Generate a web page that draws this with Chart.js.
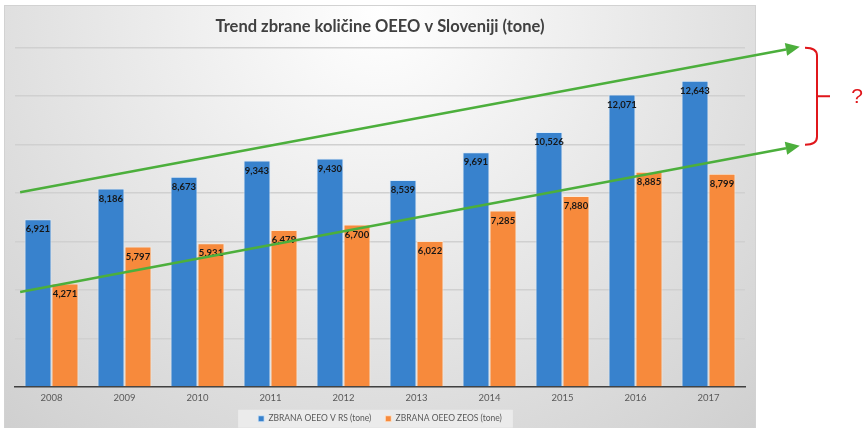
<!DOCTYPE html>
<html>
<head>
<meta charset="utf-8">
<script src="https://cdn.jsdelivr.net/npm/chart.js@4/dist/chart.umd.min.js"></script>
<style>
  html, body { margin: 0; padding: 0; background: #ffffff; }
  #wrap { width: 865px; height: 428px; position: relative; }
</style>
</head>
<body>
<div id="wrap"><canvas id="c" width="865" height="428"></canvas></div>
<script>
// ---- data ----
const years = ['2008', '2009', '2010', '2011', '2012', '2013', '2014', '2015', '2016', '2017'];
const rsValues = [6921, 8186, 8673, 9343, 9430, 8539, 9691, 10526, 12071, 12643];
const zeosValues = [4271, 5797, 5931, 6479, 6700, 6022, 7285, 7880, 8885, 8799];
const seriesNames = ['ZBRANA OEEO V RS (tone)', 'ZBRANA OEEO ZEOS (tone)'];
const titleText = 'Trend zbrane količine OEEO v Sloveniji (tone)';
// trend arrows (category index, value)
const upperArrow = [[-0.43, 8040], [10.25, 14040]];
const lowerArrow = [[-0.43, 3920], [10.25, 9960]];
// brace range (values)
const braceRange = [14000, 10000];

const FONT = 'Lato, "Liberation Sans", sans-serif';

const legendShiftPlugin = {
  id: 'legendShift',
  afterLayout(chart) {
    const lg = chart.legend;
    if (!lg) return;
    const shift = 8;
    lg.top -= shift;
    lg.bottom -= shift;
  }
};

const backgroundPlugin = {
  id: 'bgFrame',
  beforeDraw(chart) {
    const ctx = chart.ctx;
    ctx.save();
    const x0 = 4.5, y0 = 5.5, x1 = 755.5, y1 = 430;
    const g = ctx.createRadialGradient(380, 10, 0, 380, 10, 650);
    g.addColorStop(0, '#ffffff');
    g.addColorStop(1, '#c8c8c8');
    ctx.fillStyle = g;
    ctx.fillRect(x0, y0, x1 - x0, y1 - y0);
    ctx.strokeStyle = '#d2d2d2';
    ctx.lineWidth = 1;
    ctx.strokeRect(x0, y0, x1 - x0, y1 - y0);
    // legend background
    const lg = chart.legend;
    if (lg && lg.legendHitBoxes && lg.legendHitBoxes.length) {
      let l = Infinity, r = -Infinity, t = Infinity, b = -Infinity;
      lg.legendHitBoxes.forEach(h => {
        l = Math.min(l, h.left); r = Math.max(r, h.left + h.width);
        t = Math.min(t, h.top); b = Math.max(b, h.top + h.height);
      });
      const cy = (t + b) / 2;
      ctx.fillStyle = 'rgba(236,236,236,0.9)';
      ctx.fillRect(l - 20, cy - 9, (r - l) + 31, 18);
    }
    ctx.restore();
  }
};

const labelPlugin = {
  id: 'barLabels',
  afterDatasetsDraw(chart) {
    const ctx = chart.ctx;
    ctx.save();
    ctx.font = 'bold 9.5px ' + FONT;
    ctx.fillStyle = '#161616';
    ctx.textAlign = 'center';
    ctx.textBaseline = 'middle';
    chart.data.datasets.forEach((ds, di) => {
      const meta = chart.getDatasetMeta(di);
      meta.data.forEach((bar, i) => {
        ctx.fillText(ds.data[i].toLocaleString('en-US'), bar.x, bar.y + 10);
      });
    });
    ctx.restore();
  }
};

function drawArrow(ctx, x0, y0, x1, y1) {
  const ang = Math.atan2(y1 - y0, x1 - x0);
  const len = 14, half = 6.5;
  const bx = x1 - len * Math.cos(ang), by = y1 - len * Math.sin(ang);
  ctx.beginPath();
  ctx.moveTo(x0, y0);
  ctx.lineTo(bx, by);
  ctx.stroke();
  ctx.beginPath();
  ctx.moveTo(x1, y1);
  ctx.lineTo(bx + half * Math.sin(ang), by - half * Math.cos(ang));
  ctx.lineTo(bx - half * Math.sin(ang), by + half * Math.cos(ang));
  ctx.closePath();
  ctx.fill();
}

const annotationPlugin = {
  id: 'trendAnnot',
  afterDraw(chart) {
    const ctx = chart.ctx;
    const xs = chart.scales.x, ys = chart.scales.y;
    ctx.save();
    ctx.strokeStyle = '#4caf3c';
    ctx.fillStyle = '#4caf3c';
    ctx.lineWidth = 2.5;
    [upperArrow, lowerArrow].forEach(a => {
      drawArrow(ctx,
        xs.getPixelForValue(a[0][0]), ys.getPixelForValue(a[0][1]),
        xs.getPixelForValue(a[1][0]), ys.getPixelForValue(a[1][1]));
    });
    // brace
    const right = chart.chartArea.right;
    const yt = ys.getPixelForValue(braceRange[0]);
    const yb = ys.getPixelForValue(braceRange[1]);
    const ym = (yt + yb) / 2;
    const xl = right + 60, xr = right + 72, xt = right + 85;
    ctx.strokeStyle = '#e0161b';
    ctx.lineWidth = 2;
    ctx.beginPath();
    ctx.moveTo(xl, yt);
    ctx.quadraticCurveTo(xr, yt, xr, yt + 8);
    ctx.lineTo(xr, yb - 8);
    ctx.quadraticCurveTo(xr, yb, xl, yb);
    ctx.stroke();
    ctx.beginPath();
    ctx.moveTo(xr, ym);
    ctx.lineTo(xt, ym);
    ctx.stroke();
    ctx.fillStyle = '#e0161b';
    ctx.font = '21px "Liberation Sans", sans-serif';
    ctx.textAlign = 'center';
    ctx.textBaseline = 'middle';
    ctx.fillText('?', right + 112, ym + 1);
    ctx.restore();
  }
};

new Chart(document.getElementById('c'), {
  type: 'bar',
  data: {
    labels: years,
    datasets: [
      { label: seriesNames[0], data: rsValues, backgroundColor: '#3882cd', borderColor: 'rgba(220,235,250,0.8)', borderWidth: 1 },
      { label: seriesNames[1], data: zeosValues, backgroundColor: '#f78a3c', borderColor: 'rgba(255,235,215,0.8)', borderWidth: 1 }
    ]
  },
  options: {
    responsive: false,
    animation: false,
    devicePixelRatio: 1,
    datasets: { bar: { categoryPercentage: 0.74, barPercentage: 1.0 } },
    layout: { padding: { left: 15, right: 120, top: 0, bottom: -13 } },
    plugins: {
      title: {
        display: true, text: titleText, color: '#404040',
        font: { family: FONT, size: 16.5, weight: 'bold' },
        padding: { top: 17, bottom: 11 }
      },
      legend: {
        position: 'bottom',
        labels: {
          color: '#595959', boxWidth: 6, boxHeight: 6, padding: 14,
          font: { family: FONT, size: 8.5 }
        }
      },
      tooltip: { enabled: false }
    },
    scales: {
      x: {
        grid: { display: false, drawTicks: false },
        border: { color: '#404040', width: 1.5 },
        ticks: { color: '#595959', font: { family: FONT, size: 9.5, lineHeight: 0.8 }, padding: 7 }
      },
      y: {
        min: 0, max: 14000,
        ticks: { display: false, stepSize: 2000 },
        grid: { color: '#d0d0d0', lineWidth: 1.5, drawTicks: false },
        border: { display: false }
      }
    }
  },
  plugins: [legendShiftPlugin, backgroundPlugin, labelPlugin, annotationPlugin]
});
</script>
</body>
</html>
